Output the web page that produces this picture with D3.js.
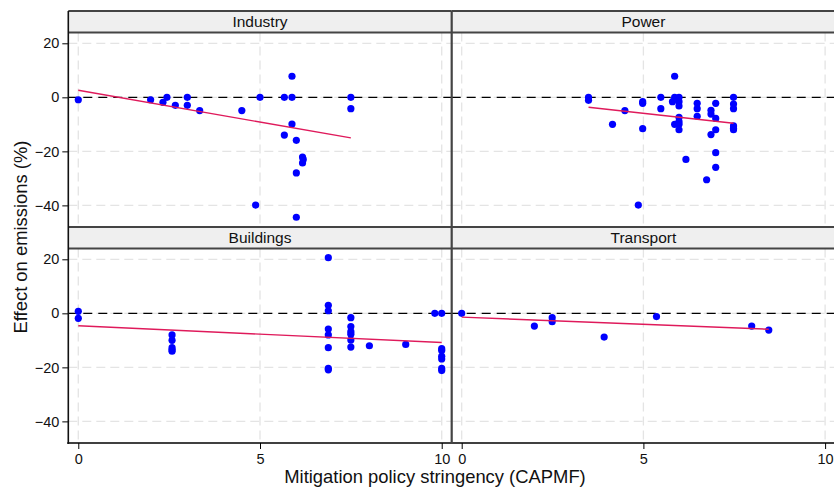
<!DOCTYPE html>
<html><head><meta charset="utf-8">
<script src="https://cdn.jsdelivr.net/npm/d3@7"></script>
<style>body{margin:0;background:#fff}svg{display:block;font-family:"Liberation Sans",Arial,sans-serif}</style>
</head><body><svg id="c" width="834" height="489"></svg>
<script>
const sectors = ["Industry","Power","Buildings","Transport"];
const industryX = [0,1.99,2.33,2.44,2.67,3.0,3.0,3.34,4.5,5.0,4.88,5.67,5.67,5.88,5.88,5.88,6.0,6.0,6.0,6.17,6.19,6.17,7.5,7.5];
const industryY = [-0.9,-0.9,-1.85,0,-2.96,0,-2.96,-4.9,-4.9,0,-39.9,0,-13.96,7.8,0,-9.9,-15.9,-28,-44.4,-22.1,-23,-24.3,0,-4.2];
const powerX = [3.49,3.49,4.15,4.49,4.98,4.98,4.98,4.86,5.48,5.48,5.86,5.8,5.86,5.98,5.98,5.98,5.98,5.98,5.86,5.98,5.98,6.17,6.48,6.48,6.48,6.74,6.86,6.86,6.86,6.99,6.99,6.99,6.99,6.99,7.48,7.48,7.48,7.48,7.48,7.48];
const powerY = [0,-1.1,-10,-4.9,-1.6,-2.2,-11.6,-39.9,0,-4.2,7.8,-1.6,0,0,-1.6,-3.2,-7.4,-9,-10,-10,-12,-23,-2.2,-4.2,-7,-30.5,-4.8,-6.2,-13.8,-2.2,-7.8,-12,-20.5,-25.9,0,-2.5,-4.2,-10.6,-11.4,-12];
const buildingsX = [0,0,2.58,2.58,2.58,2.58,2.58,6.88,6.88,6.88,6.88,6.88,6.88,6.88,6.88,7.5,7.5,7.5,7.5,7.5,7.5,8.01,9.01,9.81,10,10,10,10,10,10,10];
const buildingsY = [0.74,-1.85,-8.0,-10,-12.7,-13.5,-14,20.6,2.96,0.96,-5.8,-8,-12.7,-20.4,-20.9,-1.6,-4.9,-6.8,-7.7,-9.9,-12.5,-12,-11.5,0,0,-13.1,-13.8,-15.9,-16.9,-20.4,-21.2];
const transportX = [0,2.0,2.49,2.49,3.92,5.36,7.98,8.45];
const transportY = [0,-4.7,-1.6,-3.1,-8.8,-1.2,-4.7,-6.2];
const fitIntercept = [2.6,1.47,-4.6,-1.4];
const fitSlope = [-2.35,-1.48,-0.62,-0.53];
const fitXStart = [0,3.49,0,0];
const fitXEnd = [7.5,7.48,10,8.45];
const xTicks = [0,5,10];
const yTicks = [20,0,-20,-40];
const xTitle = "Mitigation policy stringency (CAPMF)";
const yTitle = "Effect on emissions (%)";

const seriesX = [industryX,powerX,buildingsX,transportX];
const seriesY = [industryY,powerY,buildingsY,transportY];

const svg = d3.select("#c");
const left0 = 68.3, pw = 383.4;
const stripTop = [11, 227], stripH = 21.5, plotH = 194.5;
const gridCol = "#e4e4e4";
const tickFont = 14.5;

sectors.forEach((name,i)=>{
  const col = i%2, row = Math.floor(i/2);
  const x0 = left0 + col*pw;
  const sy = stripTop[row];
  const py = sy + stripH;
  const x = d3.scaleLinear().domain([-0.275,10.275]).range([0,pw]);
  const y = d3.scaleLinear().domain([-48,24]).range([plotH,0]);
  const g = svg.append("g").attr("transform",`translate(${x0},${py})`);
  g.selectAll(".gy").data(yTicks).join("line")
    .attr("x1",0).attr("x2",pw).attr("y1",d=>y(d)).attr("y2",d=>y(d))
    .attr("stroke",gridCol).attr("stroke-width",1.3).attr("stroke-dasharray","9,5");
  g.selectAll(".gx").data(xTicks).join("line")
    .attr("y1",0).attr("y2",plotH).attr("x1",d=>x(d)).attr("x2",d=>x(d))
    .attr("stroke",gridCol).attr("stroke-width",1.3).attr("stroke-dasharray","9,5");
  g.append("line").attr("x1",0).attr("x2",pw).attr("y1",y(0)).attr("y2",y(0))
    .attr("stroke","#000").attr("stroke-width",1.4).attr("stroke-dasharray","9,6");
  const pts = seriesX[i].map((v,k)=>[v,seriesY[i][k]]);
  g.append("g").selectAll("circle").data(pts).join("circle")
    .attr("cx",d=>x(d[0])).attr("cy",d=>y(d[1])).attr("r",3.6).attr("fill","#0000ff");
  const xs=[fitXStart[i],fitXEnd[i]];
  g.append("path").attr("d",d3.line()(xs.map(v=>[x(v),y(fitIntercept[i]+fitSlope[i]*v)])))
    .attr("stroke","#df1a5b").attr("stroke-width",1.4).attr("fill","none");
  svg.append("rect").attr("x",x0).attr("y",sy).attr("width",pw).attr("height",stripH)
    .attr("fill","#efefef");
  svg.append("line").attr("x1",x0).attr("x2",x0+pw).attr("y1",sy).attr("y2",sy).attr("stroke","#444").attr("stroke-width",2);
  svg.append("line").attr("x1",x0).attr("x2",x0+pw).attr("y1",py).attr("y2",py).attr("stroke","#444").attr("stroke-width",2);
  svg.append("text").attr("x",x0+pw/2).attr("y",sy+16.3).attr("text-anchor","middle")
    .attr("font-size",15.5).attr("fill","#111").text(name);
  if(col===0){
    const ya = d3.axisLeft(y).tickValues(yTicks).tickSize(6).tickPadding(3);
    const ag = g.append("g").call(ya);
    ag.select(".domain").remove();
    ag.selectAll("line").attr("stroke","#000");
    ag.selectAll("text").attr("font-size",tickFont).attr("fill","#111").style("font-family","Liberation Sans, Arial, sans-serif");
  }
  if(row===1){
    const xa = d3.axisBottom(x).tickValues(xTicks).tickSize(6).tickPadding(5);
    const ag = g.append("g").attr("transform",`translate(0,${plotH})`).call(xa);
    ag.select(".domain").remove();
    ag.selectAll("line").attr("stroke","#000");
    ag.selectAll("text").attr("font-size",tickFont).attr("fill","#111").style("font-family","Liberation Sans, Arial, sans-serif");
    g.append("line").attr("x1",col===0?-1:0).attr("x2",pw).attr("y1",plotH).attr("y2",plotH).attr("stroke","#000").attr("stroke-width",1.6);
  }
});
svg.append("line").attr("x1",left0).attr("x2",left0).attr("y1",11).attr("y2",444).attr("stroke","#111").attr("stroke-width",1.6);
svg.append("line").attr("x1",left0+pw).attr("x2",left0+pw).attr("y1",11).attr("y2",444).attr("stroke","#444").attr("stroke-width",2.2);
svg.append("text").attr("x",435).attr("y",483).attr("text-anchor","middle").attr("font-size",18.4).attr("fill","#111").text(xTitle);
svg.append("text").attr("transform","translate(26.5,237) rotate(-90)").attr("text-anchor","middle").attr("font-size",18.4).attr("fill","#111").text(yTitle);
</script></body></html>
